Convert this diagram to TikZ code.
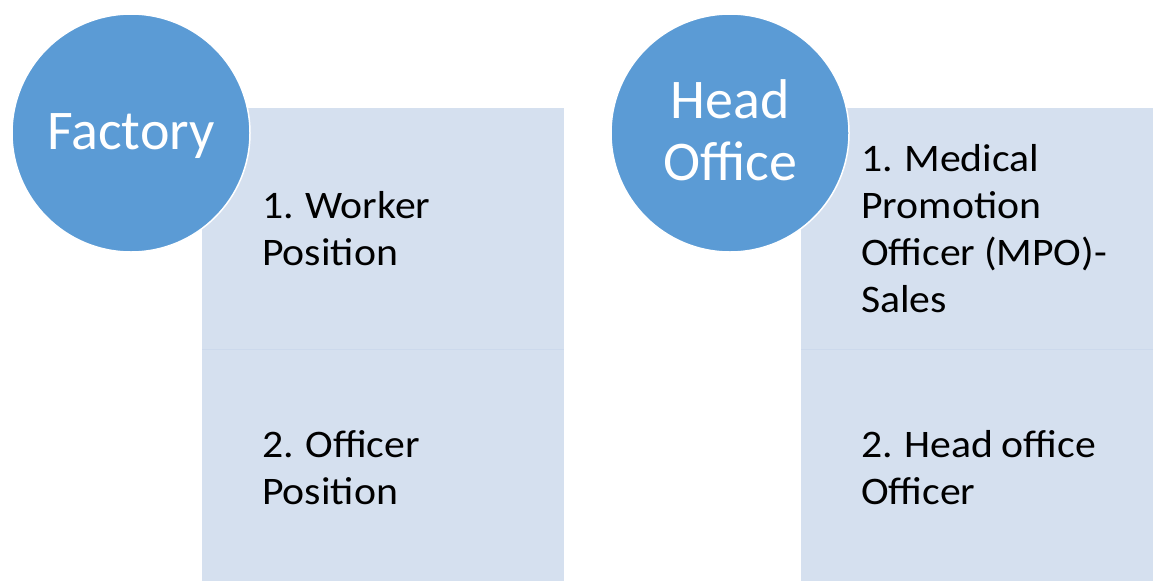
\documentclass[tikz,border=0pt]{standalone}
\usepackage{fontspec}
\setmainfont{Carlito}
\newfontfamily\itemfont[FakeStretch=1.07,WordSpace=0.9]{Carlito}
\newcommand\brk{\kern0pt{}}
\definecolor{circblue}{HTML}{5B9BD5}
\definecolor{boxblue}{HTML}{D5E0EF}
\definecolor{sepblue}{HTML}{CCD9EC}
\begin{document}
\begin{tikzpicture}[x=1pt,y=-1pt,
  panel/.style={fill=boxblue,draw=none},
  headcirc/.style={circle,fill=circblue,draw=white,line width=1.5pt,minimum size=238pt,inner sep=0pt},
  headtext/.style={text=white,font=\fontsize{56pt}{62pt}\selectfont,align=center,inner sep=0pt},
  itemtext/.style={text=black,font=\itemfont\fontsize{39pt}{47pt}\selectfont,align=left,inner sep=0pt,anchor=base west}]
\useasboundingbox (0,0) rectangle (1153,581);
% left panel
\path[panel] (202,108) rectangle (564,349);
\path[panel] (202,349) rectangle (564,581);
\draw[sepblue,line width=1pt] (202,349) -- (564,349);
% right panel
\path[panel] (801,108) rectangle (1153,349);
\path[panel] (801,349) rectangle (1153,581);
\draw[sepblue,line width=1pt] (801,349) -- (1153,349);
% circles
\node[headcirc] (fac) at (131,133) {};
\node[headcirc] (ho) at (730,133) {};
\node[headtext,anchor=base] (factxt) at (131,149) {Factory};
\node[headtext,anchor=base] (hotxt) at (730,180) {Head\\Office};
% items (base anchor = baseline of the last line)
\node[itemtext] (w1) at (262,265) {1. Worker\\Posi\brk tion};
\node[itemtext] (w2) at (262,504) {2. Officer\\Posi\brk tion};
\node[itemtext] (h1) at (861,312) {1. Medical\\Promo\brk tion\\Officer (MPO)-\\Sales};
\node[itemtext] (h2) at (861,504) {2. Head office\\Officer};
\end{tikzpicture}
\end{document}
